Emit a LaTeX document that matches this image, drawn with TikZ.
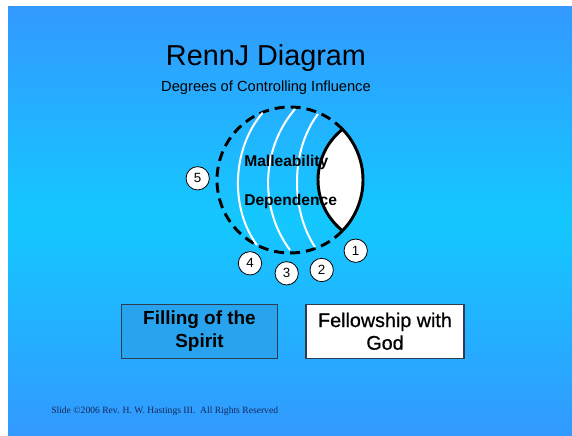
\documentclass[tikz,border=0pt]{standalone}
\usepackage{fontspec}
\setmainfont{Liberation Sans}
\newfontfamily\footfont{Liberation Serif}
\newfontfamily\medfont[FakeBold=0.8]{Liberation Sans}
\usepackage{xcolor}
\usetikzlibrary{calc}
\definecolor{slide1}{RGB}{51,153,255}
\definecolor{slide2}{RGB}{20,200,255}
\definecolor{box1}{RGB}{40,163,238}
\definecolor{edge1}{RGB}{45,60,80}
\definecolor{foot1}{RGB}{20,40,90}

\tikzset{
  numdot/.style={circle, draw=black, fill=white, line width=0.6pt, minimum size=17.5pt, inner sep=0pt, font=\fontsize{10}{12}\selectfont},
  gradeline/.style={white, line width=1.5pt},
  stagebox/.style={draw=edge1, line width=0.8pt, minimum width=117pt, minimum height=40.5pt, align=center, inner sep=0pt},
  plaintext/.style={inner sep=0pt},
}

\begin{document}
\begin{tikzpicture}[x=0.75pt,y=-0.75pt]

\useasboundingbox (0,0) rectangle (572,436);
\fill[top color=slide1, bottom color=slide1, middle color=slide2] (8,6) rectangle (572,436);

\node (title) at (266,65)[plaintext, anchor=base, font=\fontsize{21.6}{26}\selectfont] {RennJ Diagram};
\node (subtitle) at (266,91.5)[plaintext, anchor=base, font=\fontsize{11}{13}\selectfont] {Degrees of Controlling Influence};

\coordinate (hub) at (290,180);
\coordinate (lensT) at ($(hub)+(-44:73)$);
\coordinate (lensB) at ($(hub)+(44:73)$);

\draw[line width=2.2pt, dash pattern=on 7.5pt off 4.5pt] (lensT) arc[start angle=-44, end angle=-316, radius=73];
\draw[line width=2.2pt, fill=white, line join=round] (lensT) arc[start angle=-44, end angle=44, radius=73] arc[start angle=128.4, end angle=231.6, radius=64.7] -- cycle;

\draw[gradeline] (262.7,112.7) .. controls (230.7,150) and (230.7,210) .. (257,245);
\draw[gradeline] (295,109) .. controls (260,150) and (260,210) .. (290,250);
\draw[gradeline] (318,114) .. controls (290.5,150) and (290.5,210) .. (315,247);

\node (mall) at (244,166)[plaintext, anchor=base west, font=\bfseries\fontsize{11.7}{14}\selectfont] {Malleability};
\node (dep) at (244,205)[plaintext, anchor=base west, font=\bfseries\fontsize{11.7}{14}\selectfont] {Dependence};

\node[numdot] (n1) at (355.7,250.7) {1};
\node[numdot] (n2) at (321.7,270) {2};
\node[numdot] (n3) at (286.7,273.3) {3};
\node[numdot] (n4) at (250,263.3) {4};
\node[numdot] (n5) at (197.7,178.3) {5};

\node[stagebox, fill=box1, font=\bfseries\fontsize{14.2}{17}\selectfont] (filling) at (199.5,331.3) {Filling of the\\Spirit};
\node[stagebox, fill=white, minimum width=118.5pt, font=\medfont\fontsize{14.8}{17}\selectfont] (fellow) at (385,331.3) {Fellowship with\\God};

\node (foot) at (51,413)[plaintext, anchor=base west, text=foot1, font=\footfont\fontsize{7.2}{8}\selectfont] {Slide \textcopyright2006 Rev. H. W. Hastings III.\ \ All Rights Reserved};

\end{tikzpicture}
\end{document}
